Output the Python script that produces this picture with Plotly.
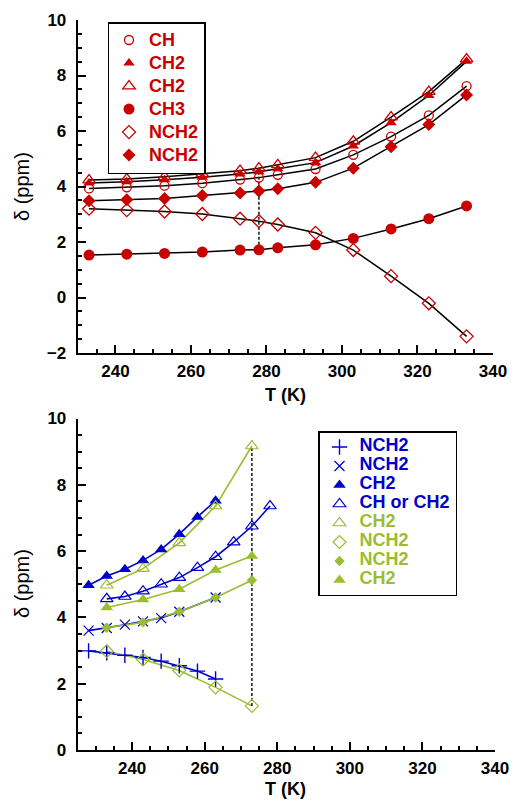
import plotly.graph_objects as go

# ---------------- data: top panel ----------------
T_top = [233, 243, 253, 263, 273, 278, 283, 293, 303, 313, 323, 333]
CH = [3.93, 3.97, 4.03, 4.12, 4.25, 4.32, 4.42, 4.63, 5.14, 5.80, 6.56, 7.62]
CH2_filled = [4.13, 4.17, 4.24, 4.33, 4.45, 4.53, 4.64, 4.86, 5.46, 6.30, 7.28, 8.51]
CH2_open = [4.23, 4.27, 4.35, 4.45, 4.57, 4.66, 4.78, 5.04, 5.63, 6.50, 7.42, 8.59]
CH3 = [1.53, 1.56, 1.59, 1.64, 1.71, 1.72, 1.79, 1.90, 2.13, 2.47, 2.84, 3.30]
NCH2_open = [3.20, 3.15, 3.10, 3.01, 2.84, 2.75, 2.63, 2.33, 1.71, 0.77, -0.21, -1.40]
NCH2_filled = [3.49, 3.52, 3.57, 3.68, 3.77, 3.84, 3.92, 4.15, 4.66, 5.43, 6.23, 7.30]
top_labels = ["CH", "CH2", "CH2", "CH3", "NCH2", "NCH2"]

# ---------------- data: bottom panel ----------------
T_plus = [228, 233, 238, 243, 248, 253, 258, 263]
B_plus = [2.99, 2.93, 2.86, 2.79, 2.68, 2.54, 2.38, 2.14]
T_x = [228, 233, 238, 243, 248, 253, 263]
B_x = [3.60, 3.68, 3.78, 3.88, 3.98, 4.17, 4.60]
T_btri = [228, 233, 238, 243, 248, 253, 258, 263]
B_btri = [4.97, 5.25, 5.45, 5.72, 6.05, 6.51, 7.03, 7.52]
T_botri = [233, 238, 243, 248, 253, 258, 263, 268, 273, 278]
B_botri = [4.56, 4.63, 4.79, 5.00, 5.20, 5.50, 5.83, 6.27, 6.75, 7.36]
T_green = [233, 243, 253, 263, 273]
G_otri = [4.97, 5.47, 6.25, 7.36, 9.17]
G_odia = [2.98, 2.73, 2.40, 1.89, 1.33]
G_fdia = [3.69, 3.85, 4.17, 4.60, 5.12]
G_ftri = [4.30, 4.54, 4.85, 5.43, 5.85]
bottom_labels = ["NCH2", "NCH2", "CH2", "CH or CH2", "CH2", "NCH2", "NCH2", "CH2"]

RED = "#C80000"
BLUE = "#0000CC"
GREEN = "#9ABD32"
FONT = "Liberation Sans, Arial, sans-serif"

fig = go.Figure()


def lab(text, color):
    return f'<span style="font-size:18px;font-weight:bold;color:{color}">{text}</span>'


# ---------- top panel: lines first ----------
for ys in [CH, CH2_filled, CH2_open, CH3, NCH2_open, NCH2_filled]:
    fig.add_trace(go.Scatter(x=T_top, y=ys, mode="lines", line=dict(color="black", width=1.5),
                             showlegend=False, hoverinfo="skip", xaxis="x", yaxis="y"))
# dashed vertical connector at 278 K
fig.add_trace(go.Scatter(x=[T_top[5], T_top[5]], y=[CH3[5], CH2_open[5]], mode="lines",
                         line=dict(color="#222222", width=1.6, dash="3px,2px"),
                         showlegend=False, hoverinfo="skip", xaxis="x", yaxis="y"))

top_series = [
    (CH, "circle-open", 9, 1.3),
    (CH2_filled, "triangle-up", 10, 0),
    (CH2_open, "triangle-up-open", 11, 1.3),
    (CH3, "circle", 11, 0),
    (NCH2_open, "diamond-open", 10, 1.3),
    (NCH2_filled, "diamond", 10, 0),
]
for (ys, sym, sz, lw), name in zip(top_series, top_labels):
    fig.add_trace(go.Scatter(
        x=T_top, y=ys, mode="markers", name=lab(name, RED),
        marker=dict(symbol=sym, size=sz, color=RED, line=dict(color=RED, width=lw)),
        xaxis="x", yaxis="y", legend="legend"))

# ---------- bottom panel: lines first ----------
bottom_series = [
    (T_plus, B_plus, "cross-thin", 11, BLUE, 1.4),
    (T_x, B_x, "x-thin", 10, BLUE, 1.2),
    (T_btri, B_btri, "triangle-up", 11, BLUE, 0),
    (T_botri, B_botri, "triangle-up-open", 11, BLUE, 1.2),
    (T_green, G_otri, "triangle-up-open", 11, GREEN, 1.2),
    (T_green, G_odia, "diamond-open", 10, GREEN, 1.2),
    (T_green, G_fdia, "diamond", 8, GREEN, 0),
    (T_green, G_ftri, "triangle-up", 11, GREEN, 0),
]
for xs, ys, sym, sz, col, lw in bottom_series:
    fig.add_trace(go.Scatter(x=xs, y=ys, mode="lines", line=dict(color=col, width=1.6),
                             showlegend=False, hoverinfo="skip", xaxis="x2", yaxis="y2"))
fig.add_trace(go.Scatter(x=[T_green[4], T_green[4]], y=[G_odia[4], G_otri[4]], mode="lines",
                         line=dict(color="#222222", width=1.6, dash="3px,2px"),
                         showlegend=False, hoverinfo="skip", xaxis="x2", yaxis="y2"))
for (xs, ys, sym, sz, col, lw), name in zip(bottom_series, bottom_labels):
    fig.add_trace(go.Scatter(
        x=xs, y=ys, mode="markers", name=lab(name, col),
        marker=dict(symbol=sym, size=sz, color=col, line=dict(color=col, width=lw)),
        xaxis="x2", yaxis="y2", legend="legend2"))

axis_common = dict(
    showline=True, linecolor="black", linewidth=2, mirror=False,
    ticks="inside", ticklen=8, tickwidth=1.5, tickcolor="black",
    showgrid=False, zeroline=False, automargin=False,
    tickfont=dict(family=FONT, size=17, weight="bold", color="black"),
    minor=dict(ticks="inside", ticklen=4, tickwidth=1.5, tickcolor="black", showgrid=False),
)

W, H = 512, 800
fig.update_layout(
    width=W, height=H, autosize=False,
    margin=dict(l=0, r=0, t=0, b=0, pad=0, autoexpand=False),
    paper_bgcolor="white", plot_bgcolor="white",
    font=dict(family=FONT, color="black"),
    xaxis=dict(axis_common, domain=[77.7 / W, 493 / W], range=[230, 340], tick0=0, dtick=20,
               minor=dict(axis_common["minor"], dtick=5), anchor="y", ticklabelstandoff=2),
    yaxis=dict(axis_common, domain=[1 - 353 / H, 1 - 20 / H], range=[-2, 10], tick0=0, dtick=2,
               minor=dict(axis_common["minor"], dtick=0.5), anchor="x", ticklabelstandoff=6),
    xaxis2=dict(axis_common, domain=[77.7 / W, 495 / W], range=[225, 340], tick0=0, dtick=20,
                minor=dict(axis_common["minor"], dtick=5), anchor="y2", ticklabelstandoff=2),
    yaxis2=dict(axis_common, domain=[1 - 750 / H, 1 - 418.5 / H], range=[0, 10], tick0=0, dtick=2,
                minor=dict(axis_common["minor"], dtick=0.5), anchor="x2", ticklabelstandoff=6),
    legend=dict(x=107.5 / W, y=1 - 22 / H, xanchor="left", yanchor="top", bgcolor="white",
                bordercolor="black", borderwidth=1.5, tracegroupgap=0,
                font=dict(family=FONT, size=15.4, weight="bold", color=RED)),
    legend2=dict(x=318 / W, y=1 - 431 / H, xanchor="left", yanchor="top", bgcolor="white",
                 bordercolor="black", borderwidth=1.5, tracegroupgap=0,
                 font=dict(family=FONT, size=11.15, weight="bold", color=BLUE)),
    annotations=[
        dict(text="<b>T (K)</b>", x=285 / W, y=1 - 395 / H, xref="paper", yref="paper",
             showarrow=False, font=dict(family=FONT, size=18), xanchor="center", yanchor="middle"),
        dict(text="<b>T (K)</b>", x=285 / W, y=1 - 789 / H, xref="paper", yref="paper",
             showarrow=False, font=dict(family=FONT, size=18), xanchor="center", yanchor="middle"),
        dict(text="δ (ppm)", x=22 / W, y=1 - 187 / H, xref="paper", yref="paper", textangle=-90,
             showarrow=False, font=dict(family=FONT, size=20), xanchor="center", yanchor="middle"),
        dict(text="δ (ppm)", x=22 / W, y=1 - 584 / H, xref="paper", yref="paper", textangle=-90,
             showarrow=False, font=dict(family=FONT, size=20), xanchor="center", yanchor="middle"),
    ],
)

fig.write_html("out.html", config={"displayModeBar": False},
               post_script="document.body.style.margin='0';document.body.style.padding='0';")
